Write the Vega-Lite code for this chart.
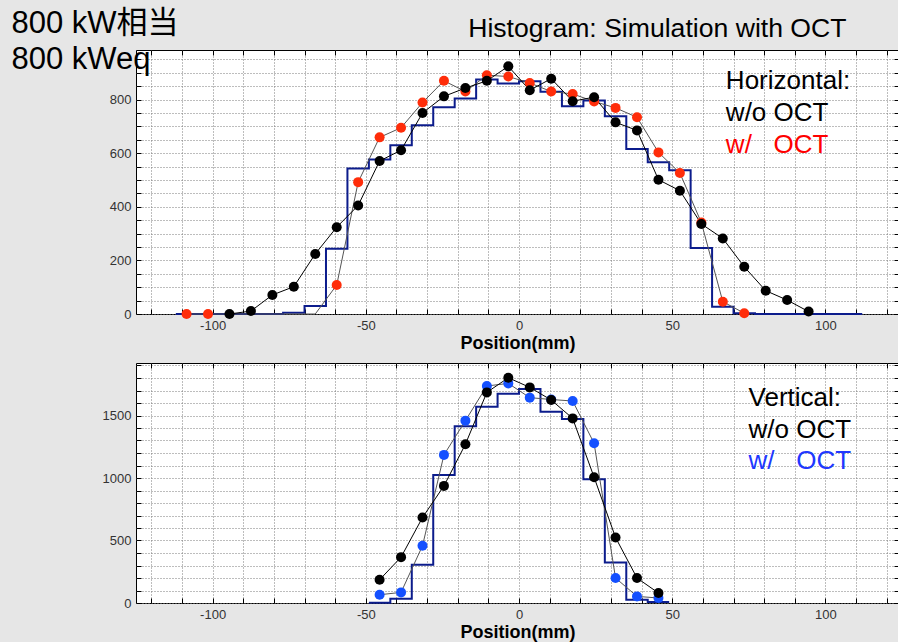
{
  "$schema": "https://vega.github.io/schema/vega-lite/v6.json",
  "background": "#e6e6e6",
  "padding": {"left": 10, "top": 6, "right": 0, "bottom": 1},
  "bounds": "flush",
  "spacing": 49,
  "datasets": {
    "h_hist": [
      {"x": -112, "y": 0}, {"x": -77, "y": 5}, {"x": -70, "y": 30}, {"x": -63, "y": 243}, {"x": -56, "y": 543},
      {"x": -49, "y": 576}, {"x": -42, "y": 630}, {"x": -35, "y": 704}, {"x": -28, "y": 771}, {"x": -21, "y": 804},
      {"x": -14, "y": 875}, {"x": -7, "y": 860}, {"x": 0, "y": 868}, {"x": 7, "y": 829}, {"x": 14, "y": 775},
      {"x": 21, "y": 797}, {"x": 28, "y": 738}, {"x": 35, "y": 616}, {"x": 42, "y": 566}, {"x": 49, "y": 536},
      {"x": 56, "y": 246}, {"x": 63, "y": 27}, {"x": 70, "y": 3}, {"x": 77, "y": 0}, {"x": 112, "y": 0}
    ],
    "h_pts": [
      {"series": "w/\u00a0\u00a0\u00a0OCT", "x": -108.5, "y": 0},
      {"series": "w/\u00a0\u00a0\u00a0OCT", "x": -101.5, "y": 0},
      {"series": "w/\u00a0\u00a0\u00a0OCT", "x": -66.5, "y": 0},
      {"series": "w/\u00a0\u00a0\u00a0OCT", "x": -59.5, "y": 108},
      {"series": "w/\u00a0\u00a0\u00a0OCT", "x": -52.5, "y": 492},
      {"series": "w/\u00a0\u00a0\u00a0OCT", "x": -45.5, "y": 659},
      {"series": "w/\u00a0\u00a0\u00a0OCT", "x": -38.5, "y": 695},
      {"series": "w/\u00a0\u00a0\u00a0OCT", "x": -31.5, "y": 789},
      {"series": "w/\u00a0\u00a0\u00a0OCT", "x": -24.5, "y": 870},
      {"series": "w/\u00a0\u00a0\u00a0OCT", "x": -17.5, "y": 830},
      {"series": "w/\u00a0\u00a0\u00a0OCT", "x": -10.5, "y": 891},
      {"series": "w/\u00a0\u00a0\u00a0OCT", "x": -3.5, "y": 886},
      {"series": "w/\u00a0\u00a0\u00a0OCT", "x": 3.5, "y": 862},
      {"series": "w/\u00a0\u00a0\u00a0OCT", "x": 10.5, "y": 830},
      {"series": "w/\u00a0\u00a0\u00a0OCT", "x": 17.5, "y": 821},
      {"series": "w/\u00a0\u00a0\u00a0OCT", "x": 24.5, "y": 793},
      {"series": "w/\u00a0\u00a0\u00a0OCT", "x": 31.5, "y": 769},
      {"series": "w/\u00a0\u00a0\u00a0OCT", "x": 38.5, "y": 734},
      {"series": "w/\u00a0\u00a0\u00a0OCT", "x": 45.5, "y": 603},
      {"series": "w/\u00a0\u00a0\u00a0OCT", "x": 52.5, "y": 526},
      {"series": "w/\u00a0\u00a0\u00a0OCT", "x": 59.5, "y": 341},
      {"series": "w/\u00a0\u00a0\u00a0OCT", "x": 66.5, "y": 46},
      {"series": "w/\u00a0\u00a0\u00a0OCT", "x": 73.5, "y": 3},
      {"series": "w/o OCT", "x": -94.5, "y": 0},
      {"series": "w/o OCT", "x": -87.5, "y": 11},
      {"series": "w/o OCT", "x": -80.5, "y": 71},
      {"series": "w/o OCT", "x": -73.5, "y": 102},
      {"series": "w/o OCT", "x": -66.5, "y": 224},
      {"series": "w/o OCT", "x": -59.5, "y": 324},
      {"series": "w/o OCT", "x": -52.5, "y": 405},
      {"series": "w/o OCT", "x": -45.5, "y": 571},
      {"series": "w/o OCT", "x": -38.5, "y": 611},
      {"series": "w/o OCT", "x": -31.5, "y": 750},
      {"series": "w/o OCT", "x": -24.5, "y": 812},
      {"series": "w/o OCT", "x": -17.5, "y": 843},
      {"series": "w/o OCT", "x": -10.5, "y": 870},
      {"series": "w/o OCT", "x": -3.5, "y": 924},
      {"series": "w/o OCT", "x": 3.5, "y": 835},
      {"series": "w/o OCT", "x": 10.5, "y": 878},
      {"series": "w/o OCT", "x": 17.5, "y": 794},
      {"series": "w/o OCT", "x": 24.5, "y": 809},
      {"series": "w/o OCT", "x": 31.5, "y": 715},
      {"series": "w/o OCT", "x": 38.5, "y": 685},
      {"series": "w/o OCT", "x": 45.5, "y": 501},
      {"series": "w/o OCT", "x": 52.5, "y": 460},
      {"series": "w/o OCT", "x": 59.5, "y": 336},
      {"series": "w/o OCT", "x": 66.5, "y": 282},
      {"series": "w/o OCT", "x": 73.5, "y": 176},
      {"series": "w/o OCT", "x": 80.5, "y": 87},
      {"series": "w/o OCT", "x": 87.5, "y": 52},
      {"series": "w/o OCT", "x": 94.5, "y": 9}
    ],
    "v_hist": [
      {"x": -49, "y": 3}, {"x": -42, "y": 34}, {"x": -35, "y": 306}, {"x": -28, "y": 1025}, {"x": -21, "y": 1415},
      {"x": -14, "y": 1571}, {"x": -7, "y": 1675}, {"x": 0, "y": 1712}, {"x": 7, "y": 1531}, {"x": 14, "y": 1472},
      {"x": 21, "y": 990}, {"x": 28, "y": 325}, {"x": 35, "y": 26}, {"x": 42, "y": 8}, {"x": 49, "y": 8}
    ],
    "v_pts": [
      {"series": "w/\u00a0\u00a0\u00a0OCT", "x": -45.5, "y": 66},
      {"series": "w/\u00a0\u00a0\u00a0OCT", "x": -38.5, "y": 85},
      {"series": "w/\u00a0\u00a0\u00a0OCT", "x": -31.5, "y": 458},
      {"series": "w/\u00a0\u00a0\u00a0OCT", "x": -24.5, "y": 1185},
      {"series": "w/\u00a0\u00a0\u00a0OCT", "x": -17.5, "y": 1459},
      {"series": "w/\u00a0\u00a0\u00a0OCT", "x": -10.5, "y": 1736},
      {"series": "w/\u00a0\u00a0\u00a0OCT", "x": -3.5, "y": 1757},
      {"series": "w/\u00a0\u00a0\u00a0OCT", "x": 3.5, "y": 1643},
      {"series": "w/\u00a0\u00a0\u00a0OCT", "x": 10.5, "y": 1628},
      {"series": "w/\u00a0\u00a0\u00a0OCT", "x": 17.5, "y": 1616},
      {"series": "w/\u00a0\u00a0\u00a0OCT", "x": 24.5, "y": 1278},
      {"series": "w/\u00a0\u00a0\u00a0OCT", "x": 31.5, "y": 200},
      {"series": "w/\u00a0\u00a0\u00a0OCT", "x": 38.5, "y": 53},
      {"series": "w/\u00a0\u00a0\u00a0OCT", "x": 45.5, "y": 40},
      {"series": "w/o OCT", "x": -45.5, "y": 186},
      {"series": "w/o OCT", "x": -38.5, "y": 367},
      {"series": "w/o OCT", "x": -31.5, "y": 684},
      {"series": "w/o OCT", "x": -24.5, "y": 937},
      {"series": "w/o OCT", "x": -17.5, "y": 1270},
      {"series": "w/o OCT", "x": -10.5, "y": 1685},
      {"series": "w/o OCT", "x": -3.5, "y": 1802},
      {"series": "w/o OCT", "x": 3.5, "y": 1725},
      {"series": "w/o OCT", "x": 10.5, "y": 1624},
      {"series": "w/o OCT", "x": 17.5, "y": 1477},
      {"series": "w/o OCT", "x": 24.5, "y": 1006},
      {"series": "w/o OCT", "x": 31.5, "y": 524},
      {"series": "w/o OCT", "x": 38.5, "y": 200},
      {"series": "w/o OCT", "x": 45.5, "y": 80}
    ]
  },
  "vconcat": [
    {
      "width": 763,
      "height": 264,
      "resolve": {"axis": {"x": "independent", "y": "independent"}},
      "layer": [
        {"data": {"name": "h_hist"}, "mark": {"type": "line", "interpolate": "step-after", "color": "#0c1c8c", "strokeWidth": 2},
          "encoding": {
            "x": {"field": "x", "type": "quantitative", "scale": {"domain": [-125, 124], "nice": false, "zero": false},
              "axis": {"orient": "bottom", "title": "Position(mm)", "values": [-120, -110, -100, -90, -80, -70, -60, -50, -40, -30, -20, -10, 0, 10, 20, 30, 40, 50, 60, 70, 80, 90, 100, 110, 120],
                "labelExpr": "datum.value % 50 === 0 ? '' + datum.value : ''"}},
            "y": {"field": "y", "type": "quantitative", "scale": {"domain": [0, 985], "nice": false},
              "axis": {"orient": "left", "values": [0, 50, 100, 150, 200, 250, 300, 350, 400, 450, 500, 550, 600, 650, 700, 750, 800, 850, 900, 950],
                "labelExpr": "datum.value % 200 === 0 ? '' + datum.value : ''",
                "title": ["800 kW相当", "800 kWeq"], "titleAngle": 0, "titleAlign": "left", "titleBaseline": "alphabetic", "titleX": -125, "titleY": -18,
                "titleFontSize": 31, "titleLineHeight": 36, "titleFontWeight": "normal", "titleFont": "Liberation Sans, Noto Sans CJK JP"}}
          }},
        {"data": {"name": "h_pts"}, "mark": {"type": "line", "strokeWidth": 1},
          "encoding": {
            "x": {"field": "x", "type": "quantitative", "scale": {"domain": [-125, 124], "nice": false, "zero": false},
              "axis": {"orient": "top", "grid": false, "labels": false, "values": [-120, -110, -100, -90, -80, -70, -60, -50, -40, -30, -20, -10, 0, 10, 20, 30, 40, 50, 60, 70, 80, 90, 100, 110, 120],
                "title": "Histogram: Simulation with OCT", "titleAngle": 0, "titleAlign": "right", "titleBaseline": "alphabetic", "titleX": 710, "titleY": -14,
                "titleFontSize": 26.6, "titleFontWeight": "normal"}},
            "y": {"field": "y", "type": "quantitative", "scale": {"domain": [0, 985], "nice": false},
              "axis": {"orient": "right", "grid": false, "labels": false, "title": null, "values": [0, 50, 100, 150, 200, 250, 300, 350, 400, 450, 500, 550, 600, 650, 700, 750, 800, 850, 900, 950]}},
            "stroke": {"field": "series", "type": "nominal", "scale": {"domain": ["w/o OCT", "w/\u00a0\u00a0\u00a0OCT"], "range": ["black", "#555555"]}, "legend": null}}},
        {"data": {"name": "h_pts"},
          "transform": [{"filter": "datum.series === 'w/o OCT' || datum.y > 0 || datum.x < -100"}],
          "mark": {"type": "point", "filled": true, "size": 100, "opacity": 1},
          "encoding": {
            "x": {"field": "x", "type": "quantitative", "axis": null},
            "y": {"field": "y", "type": "quantitative", "axis": null},
            "color": {"field": "series", "type": "nominal", "scale": {"domain": ["w/o OCT", "w/\u00a0\u00a0\u00a0OCT"], "range": ["black", "#ff2d0a"]}, "legend": null}}},
        {"data": {"values": [{}]},
          "mark": {"type": "text", "align": "left", "baseline": "alphabetic", "fontSize": 26, "font": "Liberation Sans", "color": "black"},
          "encoding": {"x": {"datum": 67.5, "type": "quantitative", "axis": null}, "y": {"datum": 838, "type": "quantitative", "axis": null}, "text": {"value": ["Horizontal:", "w/o OCT"]}}},
        {"data": {"values": [{}]},
          "mark": {"type": "text", "align": "left", "baseline": "alphabetic", "fontSize": 26, "font": "Liberation Sans", "color": "#ff0000"},
          "encoding": {"x": {"datum": 67.5, "type": "quantitative", "axis": null}, "y": {"datum": 600, "type": "quantitative", "axis": null}, "text": {"value": "w/\u00a0\u00a0\u00a0OCT"}}}
      ]
    },
    {
      "width": 763,
      "height": 240,
      "resolve": {"axis": {"x": "independent", "y": "independent"}},
      "layer": [
        {"data": {"name": "v_hist"}, "mark": {"type": "line", "interpolate": "step-after", "color": "#0c1c8c", "strokeWidth": 2},
          "encoding": {
            "x": {"field": "x", "type": "quantitative", "scale": {"domain": [-125, 124], "nice": false, "zero": false},
              "axis": {"orient": "bottom", "title": "Position(mm)", "values": [-120, -110, -100, -90, -80, -70, -60, -50, -40, -30, -20, -10, 0, 10, 20, 30, 40, 50, 60, 70, 80, 90, 100, 110, 120],
                "labelExpr": "datum.value % 50 === 0 ? '' + datum.value : ''"}},
            "y": {"field": "y", "type": "quantitative", "scale": {"domain": [0, 1920], "nice": false},
              "axis": {"orient": "left", "title": null, "values": [0, 100, 200, 300, 400, 500, 600, 700, 800, 900, 1000, 1100, 1200, 1300, 1400, 1500, 1600, 1700, 1800, 1900],
                "labelExpr": "datum.value % 500 === 0 ? '' + datum.value : ''"}}
          }},
        {"data": {"name": "v_pts"}, "mark": {"type": "line", "strokeWidth": 1},
          "encoding": {
            "x": {"field": "x", "type": "quantitative", "scale": {"domain": [-125, 124], "nice": false, "zero": false},
              "axis": {"orient": "top", "grid": false, "labels": false, "title": null, "values": [-120, -110, -100, -90, -80, -70, -60, -50, -40, -30, -20, -10, 0, 10, 20, 30, 40, 50, 60, 70, 80, 90, 100, 110, 120]}},
            "y": {"field": "y", "type": "quantitative", "scale": {"domain": [0, 1920], "nice": false},
              "axis": {"orient": "right", "grid": false, "labels": false, "title": null, "values": [0, 100, 200, 300, 400, 500, 600, 700, 800, 900, 1000, 1100, 1200, 1300, 1400, 1500, 1600, 1700, 1800, 1900]}},
            "stroke": {"field": "series", "type": "nominal", "scale": {"domain": ["w/o OCT", "w/\u00a0\u00a0\u00a0OCT"], "range": ["black", "#555555"]}, "legend": null}}},
        {"data": {"name": "v_pts"},
          "mark": {"type": "point", "filled": true, "size": 100, "opacity": 1},
          "encoding": {
            "x": {"field": "x", "type": "quantitative", "axis": null},
            "y": {"field": "y", "type": "quantitative", "axis": null},
            "color": {"field": "series", "type": "nominal", "scale": {"domain": ["w/o OCT", "w/\u00a0\u00a0\u00a0OCT"], "range": ["black", "#1450ff"]}, "legend": null}}},
        {"data": {"values": [{}]},
          "mark": {"type": "text", "align": "left", "baseline": "alphabetic", "fontSize": 26, "font": "Liberation Sans", "color": "black"},
          "encoding": {"x": {"datum": 74.9, "type": "quantitative", "axis": null}, "y": {"datum": 1580, "type": "quantitative", "axis": null}, "text": {"value": ["Vertical:", "w/o OCT"]}}},
        {"data": {"values": [{}]},
          "mark": {"type": "text", "align": "left", "baseline": "alphabetic", "fontSize": 26, "font": "Liberation Sans", "color": "#2038ff"},
          "encoding": {"x": {"datum": 74.9, "type": "quantitative", "axis": null}, "y": {"datum": 1070, "type": "quantitative", "axis": null}, "text": {"value": "w/\u00a0\u00a0\u00a0OCT"}}}
      ]
    }
  ],
  "resolve": {"scale": {"x": "independent", "y": "independent", "color": "independent", "stroke": "independent"}},
  "config": {
    "font": "Liberation Sans",
    "view": {"fill": "white", "stroke": "black", "strokeWidth": 1},
    "axis": {"domain": false, "grid": true, "gridColor": "#7a7a7a", "gridDash": [1, 2], "gridWidth": 1,
      "labelFont": "Liberation Sans", "labelFontSize": 13, "labelColor": "#333333", "labelPadding": 10,
      "ticks": true, "tickColor": "black", "tickSize": -5, "tickWidth": 1,
      "titleFont": "Liberation Sans", "titleFontSize": 18, "titleFontWeight": "bold", "titleColor": "black", "titlePadding": 2},
    "text": {"lineHeight": 32}
  }
}
